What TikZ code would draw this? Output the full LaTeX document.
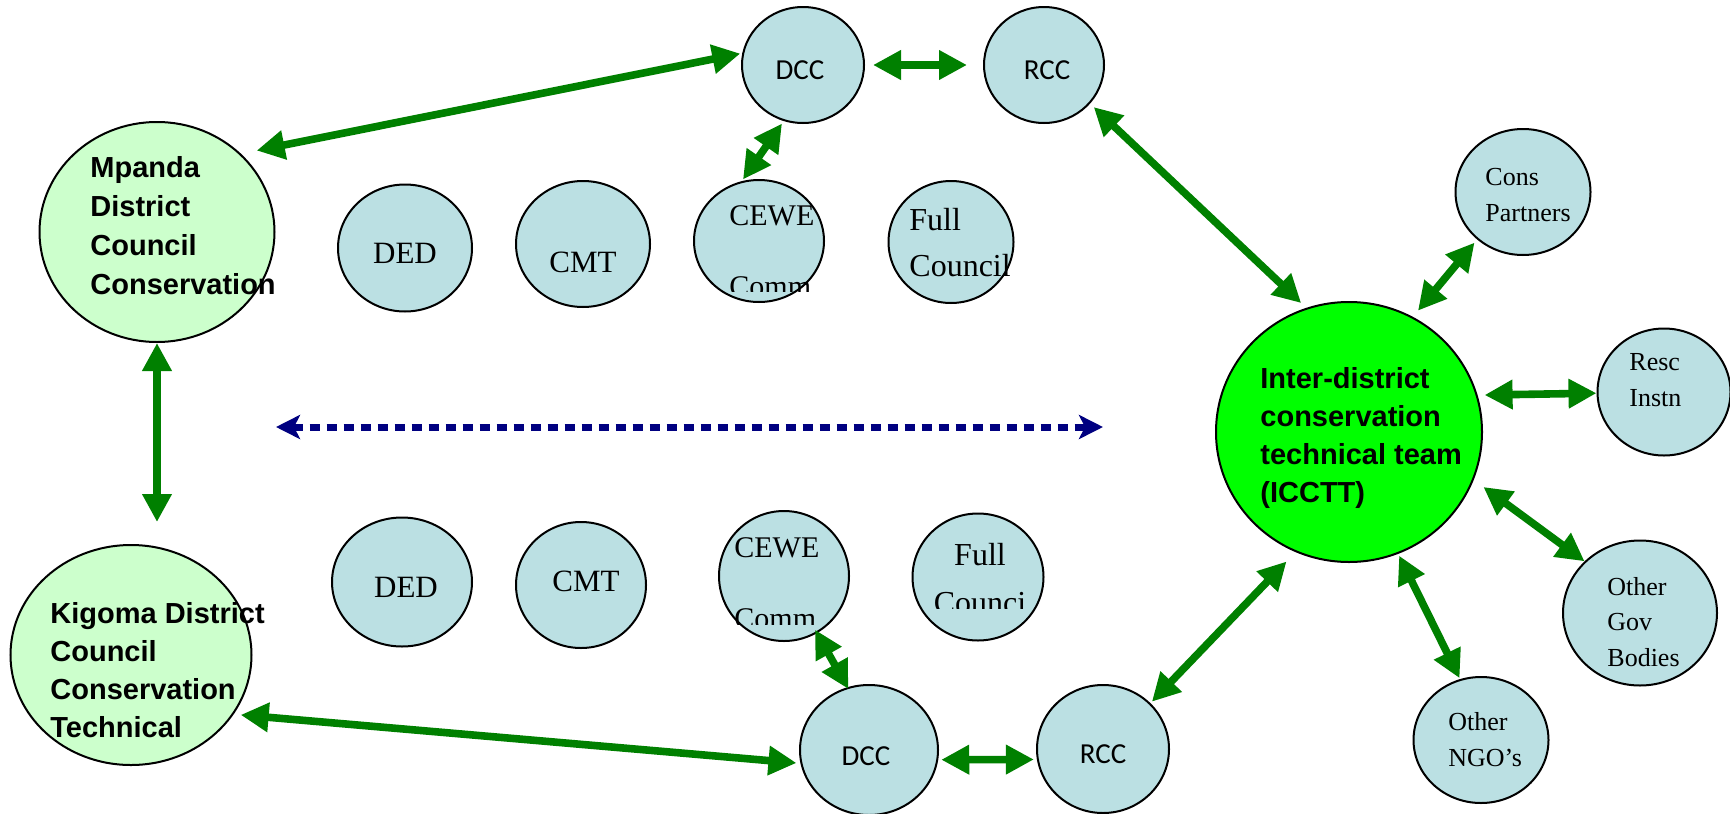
\documentclass[tikz,border=0pt]{standalone}
\usepackage{fontspec}
\setmainfont{Liberation Serif}
\newfontfamily\arialfont{Liberation Sans}
\newfontfamily\califont{Carlito}
\usetikzlibrary{shapes.geometric,arrows.meta}
\definecolor{cellblue}{RGB}{187,224,227}
\definecolor{palegreen}{RGB}{204,255,204}
\definecolor{teamgreen}{RGB}{0,255,0}
\definecolor{linkgreen}{RGB}{0,128,0}
\definecolor{dotnavy}{RGB}{0,0,128}
\tikzset{
  blob/.style 2 args={ellipse, draw, line width=1pt, inner sep=0pt,
    minimum width=#1*0.5pt, minimum height=#2*0.5pt},
  cell/.style={fill=cellblue},
  link/.style={linkgreen, line width=3.8pt,
    {Triangle[length=14pt,width=14pt]}-{Triangle[length=14pt,width=14pt]}},
  dots/.style={dotnavy, line width=3.5pt, dash pattern=on 5pt off 3.5pt,
    {Stealth[length=12pt,width=12pt,inset=3pt]}-{Stealth[length=12pt,width=12pt,inset=3pt]}},
  teamtext/.style={font=\arialfont\bfseries\fontsize{14.5}{19}\selectfont,
    align=left, inner sep=0pt, anchor=base west},
  codetext/.style={font=\califont\fontsize{14.5}{17}\selectfont, inner sep=0pt, anchor=base},
  celltext/.style={font=\fontsize{15.5}{18}\selectfont, inner sep=0pt, anchor=base},
  cewetext/.style={font=\fontsize{15}{35.5}\selectfont, align=left, inner sep=0pt, anchor=base west},
  fulltext/.style={font=\fontsize{16}{23}\selectfont, align=left, inner sep=0pt, anchor=base west},
  sidetext/.style={font=\fontsize{13}{17.75}\selectfont, align=left, inner sep=0pt, anchor=base west},
}
\begin{document}
\begin{tikzpicture}[x=0.5pt, y=-0.5pt]
  \useasboundingbox (0,0) rectangle (1730,814);
  % district councils
  \node[blob={235}{220}, fill=palegreen] (mpanda) at (157,232) {};
  \node[blob={241}{220}, fill=palegreen] (kigoma) at (131,655) {};
  % Mpanda side
  \node[blob={122}{116}, cell] (dccA) at (803,65) {};
  \node[blob={120}{116}, cell] (rccA) at (1044,65) {};
  \node[blob={134}{127}, cell] (dedA) at (405,248) {};
  \node[blob={134}{126}, cell] (cmtA) at (583,244) {};
  \node[blob={130}{122}, cell] (ceweA) at (759,241) {};
  \node[blob={125}{122}, cell] (fullA) at (951,242) {};
  % Kigoma side
  \node[blob={138}{130}, cell] (dccB) at (869,750) {};
  \node[blob={132}{128}, cell] (rccB) at (1103,749) {};
  \node[blob={140}{129}, cell] (dedB) at (402,582) {};
  \node[blob={130}{126}, cell] (cmtB) at (581,585) {};
  \node[blob={130}{130}, cell] (ceweB) at (784,576) {};
  \node[blob={131}{127}, cell] (fullB) at (978,577) {};
  % technical team and partners
  \node[blob={266}{260}, fill=teamgreen] (icctt) at (1349,432) {};
  \node[blob={135}{126}, cell] (cons) at (1523,192) {};
  \node[blob={133}{127}, cell] (resc) at (1664,392) {};
  \node[blob={154}{145}, cell] (gov) at (1640,613) {};
  \node[blob={135}{126}, cell] (ngo) at (1481,740) {};

  % links
  \draw[link, shorten <=8pt, shorten >=1pt] (mpanda.43) -- (dccA.169);
  \draw[link, shorten <=4pt, shorten >=8pt] (dccA.0) -- (rccA.180);
  \draw[link, shorten <=1.5pt, shorten >=1pt] (dccA.251) -- (ceweA.106);
  \draw[link, shorten <=2.5pt, shorten >=3.5pt] (rccA.320) -- (icctt.109);
  \draw[link, shorten <=4pt, shorten >=2pt] (icctt.61) -- (cons.226);
  \draw[link, shorten <=3.5pt] (icctt.16) -- (resc.181);
  \draw[link, shorten <=6pt] (icctt.-21) -- (gov.137);
  \draw[link, shorten <=1pt, shorten >=0.5pt] (icctt.-68) -- (ngo.109);
  \draw[link, shorten <=6.5pt, shorten >=1pt] (icctt.246) -- (rccB.44);
  \draw[link, shorten <=1.5pt, shorten >=1.5pt] (dccB.-8) -- (rccB.189);
  \draw[link, shorten <=-2pt, shorten >=-1pt] (ceweB.-60) -- (dccB.109);
  \draw[link, shorten <=3.5pt, shorten >=2pt] (kigoma.-30) -- (dccB.191);
  \draw[link, shorten >=11pt] (mpanda.south) -- (mpanda.south |- kigoma.north);
  \coordinate (leftend) at (276,427);
  \coordinate (rightend) at (1103,427);
  \draw[dots] (leftend) -- (rightend);

  % texts (base = last line)
  \node[teamtext, font=\arialfont\bfseries\fontsize{14.5}{19.5}\selectfont] (mpanda-t) at (90,294) {Mpanda\\District\\Council\\Conservation};
  \node[teamtext] (kigoma-t) at (50,737) {Kigoma District\\Council\\Conservation\\Technical};
  \node[teamtext] (icctt-t) at (1260,502) {Inter-district\\conservation\\technical team\\(ICCTT)};
  \node[codetext] (dccA-t) at (800,79) {DCC};
  \node[codetext] (rccA-t) at (1047,79) {RCC};
  \node[codetext] (dccB-t) at (866,765) {DCC};
  \node[codetext] (rccB-t) at (1103,763) {RCC};
  \node[celltext] (dedA-t) at (405,263) {DED};
  \node[celltext] (cmtA-t) at (583,272) {CMT};
  \node[celltext] (dedB-t) at (406,597) {DED};
  \node[celltext] (cmtB-t) at (586,591) {CMT};
  \begin{scope}
    \clip (690,180) rectangle (840,291);
    \node[cewetext] (ceweA-t) at (729,296) {CEWE\\Comm};
  \end{scope}
  \begin{scope}
    \clip (700,500) rectangle (860,624);
    \node[cewetext] (ceweB-t) at (734,628) {CEWE\\Comm};
  \end{scope}
  \node[fulltext] (fullA-t) at (909,276) {Full\\Council};
  \begin{scope}
    \clip (900,500) rectangle (1060,608);
    \node[fulltext, align=center, anchor=base, font=\fontsize{16}{24}\selectfont] (fullB-t) at (980,613) {Full\\Counci};
  \end{scope}
  \node[sidetext] (cons-t) at (1485,221) {Cons\\Partners};
  \node[sidetext] (resc-t) at (1629,406) {Resc\\Instn};
  \node[sidetext] (gov-t) at (1607,666) {Other\\Gov\\Bodies};
  \node[sidetext] (ngo-t) at (1448,766) {Other\\NGO’s};
\end{tikzpicture}
\end{document}
